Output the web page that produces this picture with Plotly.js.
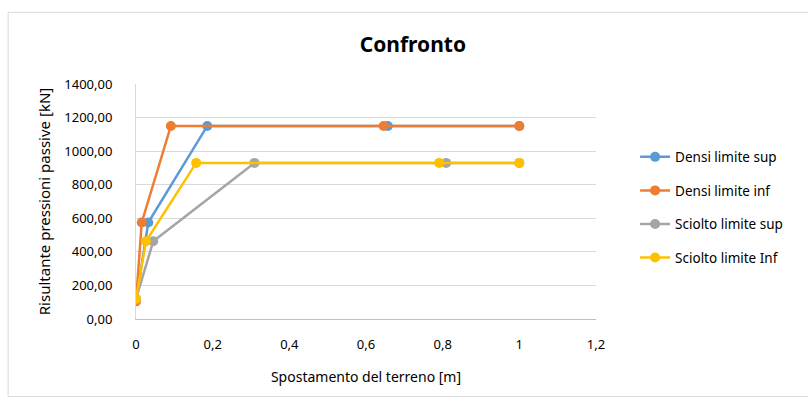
<!DOCTYPE html>
<html>
<head>
<meta charset="utf-8">
<script src="https://cdn.plot.ly/plotly-3.0.1.min.js"></script>
<style>html,body{margin:0;padding:0;background:#fff}#chart{width:808px;height:398px}</style>
</head>
<body>
<div id="chart"></div>
<script>
const seriesNames = ["Densi limite sup", "Densi limite inf", "Sciolto limite sup", "Sciolto limite Inf"];
const seriesColors = ["#5B9BD5", "#ED7D31", "#A5A5A5", "#FFC000"];
const densiSupX = [0, 0.032, 0.186, 0.657, 1];
const densiSupY = [110, 575, 1150, 1150, 1150];
const densiInfX = [0, 0.015, 0.091, 0.646, 1];
const densiInfY = [105, 575, 1150, 1150, 1150];
const scioltoSupX = [0, 0.045, 0.309, 0.809, 1];
const scioltoSupY = [120, 463, 930, 930, 930];
const scioltoInfX = [0, 0.026, 0.157, 0.791, 1];
const scioltoInfY = [120, 463, 930, 930, 930];
const xs = [densiSupX, densiInfX, scioltoSupX, scioltoInfX];
const ys = [densiSupY, densiInfY, scioltoSupY, scioltoInfY];

const font = "Noto Sans, Open Sans, sans-serif";
const traces = seriesNames.map((n, i) => ({
  type: "scatter", mode: "lines+markers", name: n,
  x: xs[i], y: ys[i], legendgroup: "g" + i,
  line: {color: seriesColors[i], width: 2.5},
  marker: {color: seriesColors[i], size: 10}
}));

const layout = {
  width: 808, height: 398,
  margin: {l: 136, r: 212, t: 84, b: 79},
  paper_bgcolor: "#fff", plot_bgcolor: "#fff",
  separators: ",.",
  font: {family: font, color: "#404040", size: 13},
  title: {text: "<b>Confronto</b>", x: 0.511, xanchor: "center", y: 0.887, yanchor: "middle",
          font: {family: font, size: 21, color: "#000"}},
  xaxis: {range: [0, 1.2], dtick: 0.2, tick0: 0, showgrid: false, zeroline: false,
          showline: true, linecolor: "#bfbfbf", linewidth: 1, ticks: "", ticklabelstandoff: 13,
          tickfont: {size: 13, color: "#000"},
          title: {text: "Spostamento del terreno [m]", standoff: 20, font: {size: 14, color: "#000"}}},
  yaxis: {range: [0, 1400], dtick: 200, tickformat: ".2f", showgrid: true, gridcolor: "#d9d9d9",
          zeroline: false, showline: true, linecolor: "#d9d9d9", ticks: "", ticklabelstandoff: 20,
          tickfont: {size: 13, color: "#000"},
          title: {text: "Risultante pressioni passive [kN]", standoff: 10, font: {size: 15, color: "#000"}}},
  legend: {x: 1.085, xanchor: "left", y: 0.755, yanchor: "top", tracegroupgap: 13,
           font: {size: 13.5, color: "#000"}, bgcolor: "rgba(0,0,0,0)"},
  shapes: [{type: "rect", xref: "paper", yref: "paper", x0: -0.278, x1: 1.6, y0: -0.33, y1: 1.305,
            line: {color: "#d9d9d9", width: 1}, layer: "below"}]
};
Plotly.newPlot("chart", traces, layout, {staticPlot: true});
</script>
</body>
</html>
